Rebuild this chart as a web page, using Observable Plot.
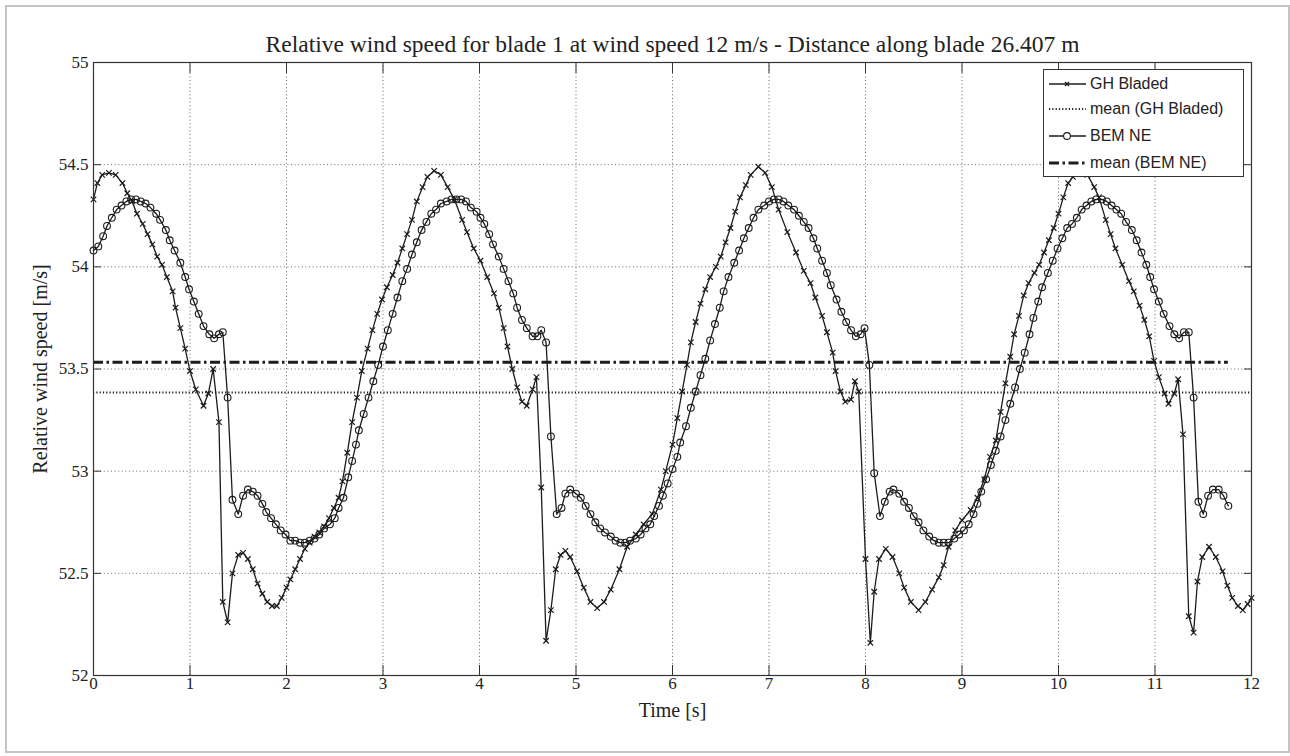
<!DOCTYPE html>
<html>
<head>
<meta charset="utf-8">
<script src="https://cdn.jsdelivr.net/npm/d3@7"></script>
<script src="https://cdn.jsdelivr.net/npm/@observablehq/plot@0.6"></script>
<style>
  html, body { margin: 0; padding: 0; background: #fff; }
  #wrap { position: relative; width: 1290px; height: 756px; overflow: hidden; background: #fff; }
  #wrap svg { position: absolute; left: 0; top: 0; }
  #border { position: absolute; left: 5px; top: 5px; width: 1281px; height: 744px; border: 2px solid #c4c4c4; }
  #legend { position: absolute; left: 1043px; top: 69px; width: 201px; height: 108px; box-sizing: border-box;
            border: 1px solid #333; background: #fff; font-family: "Liberation Sans", Arial, sans-serif; font-size: 16px; color: #222; }
  #legend .row { position: absolute; left: 0; height: 20px; width: 100%; }
  #legend .row svg { position: absolute; left: 4px; top: 0; }
  #legend .row span { position: absolute; left: 46px; top: 1px; line-height: 18px; white-space: nowrap; }
</style>
</head>
<body>
<div id="wrap"><div id="border"></div></div>
<script>
// ---------- data ----------
const chartTitle = "Relative wind speed for blade 1 at wind speed 12 m/s - Distance along blade 26.407 m";
const xLabel = "Time [s]";
const yLabel = "Relative wind speed [m/s]";
const seriesNames = ["GH Bladed", "mean (GH Bladed)", "BEM NE", "mean (BEM NE)"];
const xTicks = [0, 1, 2, 3, 4, 5, 6, 7, 8, 9, 10, 11, 12];
const yTicks = [52, 52.5, 53, 53.5, 54, 54.5, 55];

// [time s, relative wind speed m/s]
const ghBladed = [
[0.00,54.33],[0.04,54.41],[0.09,54.45],[0.16,54.46],[0.23,54.45],[0.30,54.41],[0.35,54.36],[0.40,54.32],[0.45,54.26],[0.51,54.21],
[0.56,54.16],[0.61,54.11],[0.66,54.05],[0.71,54.01],[0.76,53.95],[0.82,53.88],[0.85,53.80],[0.90,53.70],[0.95,53.60],[1.00,53.49],
[1.06,53.40],[1.14,53.32],[1.19,53.38],[1.24,53.50],[1.30,53.24],[1.34,52.36],[1.39,52.26],[1.44,52.50],[1.50,52.59],[1.55,52.60],
[1.60,52.57],[1.65,52.52],[1.70,52.45],[1.75,52.40],[1.80,52.36],[1.85,52.34],[1.90,52.34],[1.95,52.38],[2.00,52.43],[2.04,52.47],
[2.09,52.52],[2.14,52.57],[2.19,52.62],[2.24,52.65],[2.29,52.68],[2.34,52.70],[2.39,52.73],[2.44,52.77],[2.49,52.82],[2.54,52.87],
[2.58,52.95],[2.63,53.09],[2.68,53.24],[2.73,53.36],[2.78,53.49],[2.84,53.60],[2.89,53.69],[2.94,53.77],[2.99,53.84],[3.04,53.90],
[3.10,53.96],[3.15,54.02],[3.20,54.09],[3.25,54.16],[3.30,54.23],[3.35,54.32],[3.41,54.39],[3.46,54.44],[3.53,54.47],[3.60,54.45],
[3.67,54.39],[3.74,54.33],[3.82,54.23],[3.87,54.17],[3.94,54.09],[4.01,54.03],[4.08,53.95],[4.15,53.87],[4.20,53.80],[4.25,53.70],
[4.29,53.61],[4.34,53.50],[4.39,53.41],[4.44,53.34],[4.49,53.32],[4.55,53.40],[4.59,53.46],[4.64,52.92],[4.69,52.17],[4.74,52.32],
[4.79,52.52],[4.84,52.59],[4.89,52.61],[4.94,52.58],[5.01,52.51],[5.08,52.43],[5.15,52.36],[5.22,52.33],[5.29,52.36],[5.36,52.42],
[5.45,52.52],[5.53,52.63],[5.62,52.69],[5.70,52.74],[5.79,52.79],[5.88,52.91],[5.93,53.00],[6.00,53.13],[6.05,53.26],[6.10,53.39],
[6.15,53.52],[6.19,53.63],[6.24,53.73],[6.29,53.82],[6.34,53.89],[6.39,53.95],[6.45,54.00],[6.50,54.05],[6.55,54.12],[6.60,54.19],
[6.65,54.27],[6.70,54.34],[6.76,54.40],[6.81,54.45],[6.89,54.49],[6.96,54.46],[7.03,54.39],[7.10,54.28],[7.19,54.17],[7.28,54.07],
[7.36,53.98],[7.43,53.92],[7.48,53.85],[7.55,53.76],[7.60,53.68],[7.66,53.58],[7.69,53.49],[7.74,53.39],[7.79,53.34],[7.85,53.35],
[7.89,53.44],[7.93,53.39],[8.00,52.57],[8.05,52.16],[8.09,52.41],[8.14,52.57],[8.21,52.62],[8.28,52.58],[8.35,52.50],[8.40,52.43],
[8.47,52.36],[8.55,52.32],[8.62,52.36],[8.69,52.42],[8.76,52.48],[8.81,52.54],[8.86,52.63],[8.93,52.71],[9.00,52.76],[9.09,52.81],
[9.16,52.87],[9.23,52.96],[9.29,53.07],[9.35,53.15],[9.40,53.29],[9.45,53.43],[9.50,53.56],[9.54,53.67],[9.59,53.76],[9.64,53.86],
[9.69,53.92],[9.75,53.97],[9.80,54.01],[9.85,54.07],[9.90,54.13],[9.95,54.19],[10.00,54.26],[10.05,54.34],[10.10,54.41],[10.15,54.44],
[10.22,54.47],[10.30,54.45],[10.37,54.39],[10.42,54.34],[10.49,54.23],[10.54,54.16],[10.59,54.09],[10.66,54.01],[10.73,53.93],[10.78,53.88],
[10.84,53.81],[10.89,53.74],[10.94,53.66],[10.99,53.54],[11.04,53.46],[11.10,53.38],[11.14,53.33],[11.20,53.38],[11.24,53.45],[11.29,53.18],
[11.35,52.29],[11.40,52.21],[11.44,52.46],[11.49,52.58],[11.56,52.63],[11.63,52.58],[11.70,52.51],[11.75,52.44],[11.80,52.38],[11.86,52.34],
[11.91,52.32],[11.96,52.35],[12.00,52.38]
];

const bemNE = [
[0.00,54.08],[0.05,54.10],[0.10,54.15],[0.14,54.20],[0.19,54.24],[0.24,54.28],[0.29,54.30],[0.34,54.32],[0.39,54.33],[0.44,54.33],
[0.49,54.32],[0.54,54.31],[0.59,54.29],[0.65,54.26],[0.69,54.23],[0.75,54.18],[0.79,54.13],[0.84,54.08],[0.90,54.02],[0.95,53.95],
[0.99,53.89],[1.04,53.83],[1.09,53.77],[1.14,53.71],[1.20,53.67],[1.25,53.65],[1.30,53.67],[1.34,53.68],[1.39,53.36],[1.44,52.86],
[1.50,52.79],[1.55,52.88],[1.60,52.91],[1.65,52.90],[1.70,52.88],[1.75,52.84],[1.79,52.80],[1.84,52.77],[1.89,52.74],[1.94,52.71],
[1.99,52.69],[2.04,52.66],[2.09,52.66],[2.14,52.65],[2.19,52.65],[2.24,52.66],[2.29,52.67],[2.34,52.69],[2.39,52.72],[2.45,52.74],
[2.50,52.77],[2.54,52.82],[2.59,52.87],[2.64,52.97],[2.68,53.05],[2.72,53.13],[2.75,53.20],[2.80,53.28],[2.85,53.36],[2.90,53.44],
[2.95,53.52],[3.00,53.61],[3.05,53.69],[3.10,53.77],[3.15,53.85],[3.20,53.93],[3.25,53.99],[3.30,54.06],[3.35,54.12],[3.40,54.18],
[3.45,54.22],[3.50,54.26],[3.55,54.28],[3.60,54.31],[3.66,54.32],[3.71,54.33],[3.76,54.33],[3.81,54.33],[3.86,54.32],[3.91,54.29],
[3.97,54.27],[4.01,54.24],[4.05,54.21],[4.10,54.16],[4.14,54.11],[4.20,54.05],[4.25,53.99],[4.30,53.93],[4.35,53.87],[4.39,53.80],
[4.44,53.74],[4.49,53.70],[4.55,53.66],[4.60,53.66],[4.64,53.69],[4.69,53.63],[4.74,53.17],[4.80,52.79],[4.85,52.82],[4.89,52.89],
[4.94,52.91],[5.00,52.89],[5.05,52.87],[5.10,52.83],[5.15,52.79],[5.20,52.75],[5.25,52.72],[5.30,52.70],[5.36,52.68],[5.41,52.66],
[5.46,52.65],[5.51,52.65],[5.56,52.66],[5.62,52.67],[5.67,52.69],[5.72,52.72],[5.77,52.74],[5.81,52.78],[5.86,52.83],[5.90,52.88],
[5.95,52.94],[6.00,53.01],[6.05,53.07],[6.08,53.14],[6.14,53.22],[6.19,53.31],[6.24,53.39],[6.29,53.47],[6.34,53.55],[6.39,53.64],
[6.44,53.72],[6.49,53.80],[6.53,53.88],[6.58,53.95],[6.64,54.02],[6.69,54.08],[6.74,54.14],[6.79,54.19],[6.84,54.24],[6.89,54.28],
[6.95,54.30],[7.00,54.32],[7.05,54.33],[7.10,54.33],[7.15,54.32],[7.20,54.30],[7.26,54.28],[7.31,54.25],[7.36,54.22],[7.41,54.19],
[7.46,54.14],[7.50,54.09],[7.55,54.03],[7.60,53.97],[7.64,53.91],[7.70,53.84],[7.75,53.78],[7.80,53.73],[7.85,53.69],[7.90,53.66],
[7.95,53.67],[7.99,53.70],[8.04,53.52],[8.09,52.99],[8.15,52.78],[8.20,52.85],[8.25,52.90],[8.29,52.91],[8.35,52.89],[8.40,52.85],
[8.45,52.82],[8.50,52.78],[8.55,52.75],[8.60,52.71],[8.66,52.68],[8.71,52.66],[8.76,52.65],[8.81,52.65],[8.86,52.65],[8.92,52.67],
[8.97,52.69],[9.02,52.71],[9.07,52.74],[9.12,52.79],[9.16,52.84],[9.20,52.90],[9.25,52.96],[9.30,53.03],[9.35,53.10],[9.40,53.17],
[9.45,53.25],[9.50,53.33],[9.55,53.41],[9.60,53.50],[9.65,53.58],[9.70,53.67],[9.74,53.75],[9.79,53.83],[9.83,53.90],[9.89,53.97],
[9.94,54.03],[9.99,54.09],[10.04,54.14],[10.09,54.19],[10.14,54.21],[10.19,54.24],[10.24,54.28],[10.29,54.30],[10.34,54.32],[10.39,54.33],
[10.45,54.33],[10.50,54.32],[10.55,54.30],[10.60,54.28],[10.65,54.26],[10.70,54.22],[10.76,54.18],[10.81,54.13],[10.86,54.07],[10.91,54.01],
[10.95,53.95],[10.99,53.89],[11.04,53.83],[11.09,53.77],[11.15,53.71],[11.20,53.67],[11.25,53.65],[11.30,53.68],[11.35,53.68],[11.40,53.36],
[11.45,52.85],[11.50,52.79],[11.55,52.88],[11.60,52.91],[11.66,52.91],[11.71,52.88],[11.76,52.83]
];

const meanGhBladed = 53.385;
const meanBemNE = 53.533;

// ---------- build ----------
const gh = ghBladed.map(([t, v]) => ({t, v}));
const bem = bemNE.map(([t, v]) => ({t, v}));
const ghMean = [{v: meanGhBladed, t1: gh[0].t, t2: gh[gh.length - 1].t}];
const bemMean = [{v: meanBemNE, t1: bem[0].t, t2: bem[bem.length - 1].t}];

const ink = "#1c1c1c";
const fmt = d => String(d);

const chart = Plot.plot({
  width: 1290,
  height: 756,
  marginLeft: 93,
  marginRight: 39,
  marginTop: 62,
  marginBottom: 81,
  style: {background: "transparent", fontFamily: "'Liberation Serif', 'Times New Roman', serif", fontSize: "17px", color: "#222", overflow: "visible"},
  x: {domain: [0, 12], ticks: xTicks},
  y: {domain: [52, 55], ticks: yTicks},
  marks: [
    Plot.gridX(xTicks, {stroke: "#6a6a6a", strokeOpacity: 1, strokeWidth: 1, strokeDasharray: "1,2.6"}),
    Plot.gridY(yTicks, {stroke: "#6a6a6a", strokeOpacity: 1, strokeWidth: 1, strokeDasharray: "1,2.6"}),
    Plot.line(gh, {x: "t", y: "v", stroke: ink, strokeWidth: 1.3}),
    Plot.dot(gh, {x: "t", y: "v", symbol: "times", r: 2.6, stroke: ink, strokeWidth: 1.2}),
    Plot.ruleY(ghMean, {y: "v", x1: "t1", x2: "t2", stroke: ink, strokeWidth: 2.2, strokeDasharray: "1.2,2.1"}),
    Plot.line(bem, {x: "t", y: "v", stroke: ink, strokeWidth: 1.3}),
    Plot.dot(bem, {x: "t", y: "v", symbol: "circle", r: 3.4, stroke: ink, fill: "none", strokeWidth: 1.1}),
    Plot.ruleY(bemMean, {y: "v", x1: "t1", x2: "t2", stroke: ink, strokeWidth: 3.2, strokeDasharray: "10,3.5,2.5,3.5"}),
    Plot.frame({stroke: "#333", strokeWidth: 1.2}),
    Plot.axisX(xTicks, {anchor: "bottom", tickSize: -10, tickPadding: 11, tickFormat: fmt, label: null, stroke: "#333", fontSize: 17}),
    Plot.axisX(xTicks, {anchor: "top", tickSize: -10, tickFormat: () => "", label: null, stroke: "#333"}),
    Plot.axisY(yTicks, {anchor: "left", tickSize: -8, tickPadding: 13, tickFormat: fmt, label: null, stroke: "#333", fontSize: 17}),
    Plot.axisY(yTicks, {anchor: "right", tickSize: -8, tickFormat: () => "", label: null, stroke: "#333"}),
    Plot.text([chartTitle], {frameAnchor: "top", textAnchor: "middle", dy: -27, fontSize: 23.5, fill: "#222"}),
    Plot.text([xLabel], {frameAnchor: "bottom", textAnchor: "middle", dy: 41, fontSize: 20, fill: "#222"}),
    Plot.text([yLabel], {frameAnchor: "left", textAnchor: "middle", dx: -53, rotate: -90, fontSize: 20, fill: "#222"})
  ]
});
document.getElementById("wrap").appendChild(chart);

// ---------- legend ----------
const legend = document.createElement("div");
legend.id = "legend";
const rowTops = [4, 29, 56, 83];
const samples = [
  `<line x1="1" y1="10" x2="38" y2="10" stroke="${ink}" stroke-width="1.3"/><path d="M17,8 L21,12 M21,8 L17,12" stroke="${ink}" stroke-width="1.3"/>`,
  `<line x1="1" y1="10" x2="38" y2="10" stroke="${ink}" stroke-width="2.2" stroke-dasharray="1.2,2.1"/>`,
  `<line x1="1" y1="10" x2="38" y2="10" stroke="${ink}" stroke-width="1.3"/><circle cx="19" cy="10" r="3.4" fill="#fff" stroke="${ink}" stroke-width="1.1"/>`,
  `<line x1="1" y1="10" x2="38" y2="10" stroke="${ink}" stroke-width="3.2" stroke-dasharray="10,3.5,2.5,3.5"/>`
];
seriesNames.forEach((name, i) => {
  const row = document.createElement("div");
  row.className = "row";
  row.style.top = rowTops[i] + "px";
  row.innerHTML = `<svg width="40" height="20">${samples[i]}</svg><span>${name}</span>`;
  legend.appendChild(row);
});
document.getElementById("wrap").appendChild(legend);
</script>
</body>
</html>
